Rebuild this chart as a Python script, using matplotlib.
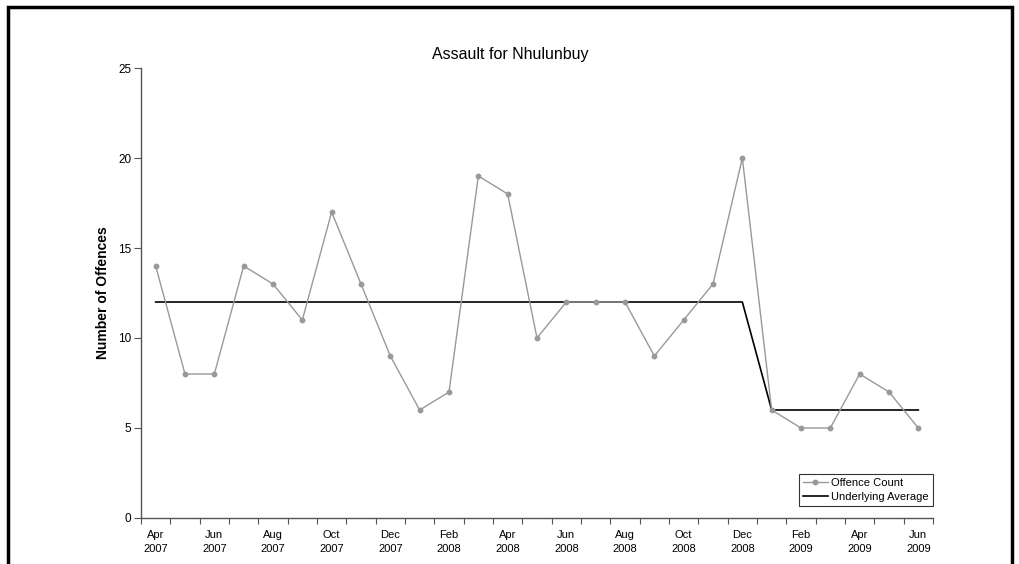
import matplotlib
matplotlib.use('Agg')
import matplotlib.pyplot as plt
from matplotlib.patches import Rectangle
from matplotlib.ticker import FixedLocator

plt.rcParams['font.family'] = ['Liberation Sans', 'DejaVu Sans']

months = ['Apr', 'May', 'Jun', 'Jul', 'Aug', 'Sep', 'Oct', 'Nov', 'Dec', 'Jan', 'Feb', 'Mar',
          'Apr', 'May', 'Jun', 'Jul', 'Aug', 'Sep', 'Oct', 'Nov', 'Dec', 'Jan', 'Feb', 'Mar',
          'Apr', 'May', 'Jun']
years = ['2007'] * 9 + ['2008'] * 12 + ['2009'] * 6
offence_count = [14, 8, 8, 14, 13, 11, 17, 13, 9, 6, 7, 19, 18, 10, 12, 12, 12, 9, 11, 13, 20,
                 6, 5, 5, 8, 7, 5]
underlying_avg = [12] * 21 + [6] * 6

fig = plt.figure(figsize=(10.2, 5.64), dpi=100)
ax = fig.add_axes([141 / 1020, 46 / 564, 792 / 1020, 450 / 564])

x = list(range(len(months)))
ax.plot(x, offence_count, color='#999999', lw=1.0, marker='o', ms=3.2,
        mec='#999999', mfc='#999999', label='Offence Count', zorder=3)
ax.plot(x, underlying_avg, color='black', lw=1.2, label='Underlying Average', zorder=2)

ax.set_xlim(-0.5, len(months) - 0.5)
ax.set_ylim(0, 25)
ax.set_yticks([0, 5, 10, 15, 20, 25])
ax.tick_params(axis='y', direction='out', length=5, width=0.8, color='#555555',
               labelsize=8.5, pad=2)

lab_pos = x[::2]
ax.set_xticks(lab_pos)
ax.set_xticklabels([f'{months[i]}\n{years[i]}' for i in lab_pos], fontsize=8, linespacing=1.45)
ax.xaxis.set_minor_locator(FixedLocator([i - 0.5 for i in range(len(months) + 1)]))
ax.tick_params(axis='x', which='major', length=0, pad=9)
ax.tick_params(axis='x', which='minor', direction='out', length=4, width=0.8, color='#555555')

for s in ['top', 'right']:
    ax.spines[s].set_visible(False)
for s in ['left', 'bottom']:
    ax.spines[s].set_color('#555555')
    ax.spines[s].set_linewidth(1.0)

ax.set_ylabel('Number of Offences', fontsize=10, fontweight='bold')
ax.yaxis.set_label_coords(-31 / 792, 0.5)
fig.text(0.5, 1 - 55 / 564, 'Assault for Nhulunbuy', ha='center', va='center', fontsize=11.5)

leg = ax.legend(loc='lower right', bbox_to_anchor=(1.0, 0.027), fontsize=8, frameon=True,
                fancybox=False, edgecolor='black', borderpad=0.35, handlelength=2.3,
                handletextpad=0.3, labelspacing=0.35, borderaxespad=0)
leg.get_frame().set_linewidth(0.8)

fig.patches.append(Rectangle((8 / 1020, -0.1), 1004 / 1020, 1.1 - 7 / 564,
                             transform=fig.transFigure, fill=False, edgecolor='black',
                             lw=2.5, zorder=10))

fig.savefig('out.png', dpi=100, facecolor='white')
